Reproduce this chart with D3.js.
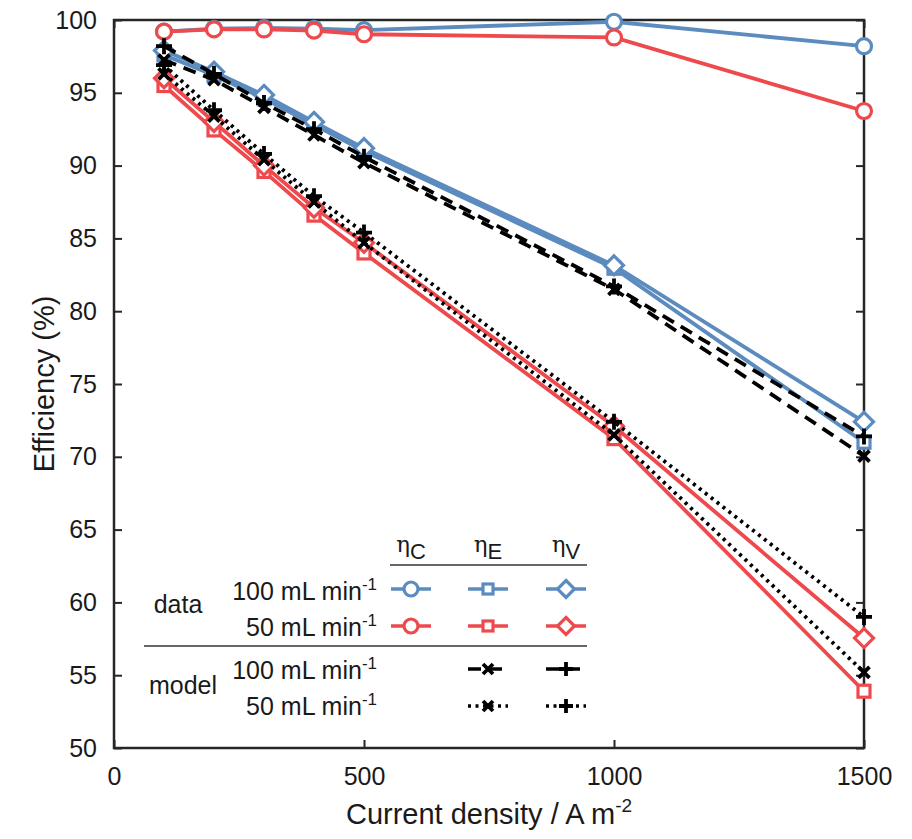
<!DOCTYPE html>
<html>
<head>
<meta charset="utf-8">
<script src="https://cdn.jsdelivr.net/npm/d3@7"></script>
<style>
  body { margin: 0; background: #fff; }
  text { font-family: "Liberation Sans", Arial, sans-serif; fill: #1a1a1a; }
</style>
</head>
<body>
<svg id="chart" width="912" height="839"></svg>
<script>
// current density (A m^-2)
const currentDensity = [100, 200, 300, 400, 500, 1000, 1500];
// measured efficiencies (%)
const etaC_100 = [99.2, 99.4, 99.45, 99.4, 99.3, 99.88, 98.2];
const etaC_50 = [99.2, 99.36, 99.35, 99.27, 99.02, 98.8, 93.75];
const etaE_100 = [97.6, 96.2, 94.6, 92.8, 91.0, 82.95, 71.0];
const etaV_100 = [97.9, 96.45, 94.85, 93.0, 91.2, 83.15, 72.4];
const etaE_50 = [95.5, 92.45, 89.6, 86.6, 84.0, 71.25, 53.9];
const etaV_50 = [96.0, 93.0, 90.0, 87.1, 84.7, 72.1, 57.55];
// model efficiencies (%)
const modelE_100 = [97.25, 95.9, 94.0, 92.1, 90.2, 81.5, 70.05];
const modelV_100 = [98.2, 96.3, 94.3, 92.5, 90.6, 81.7, 71.4];
const modelE_50 = [96.3, 93.4, 90.4, 87.5, 84.7, 71.5, 55.2];
const modelV_50 = [96.9, 93.8, 90.8, 87.9, 85.4, 72.4, 59.0];
// ticks
const xTicks = [0, 500, 1000, 1500];
const yTicks = [50, 55, 60, 65, 70, 75, 80, 85, 90, 95, 100];

const blue = "#5b8bbf", red = "#ee4a4e", black = "#000";
const margin = {left: 114, right: 48, top: 20, bottom: 91};
const W = 912, H = 839;
const pw = W - margin.left - margin.right, ph = H - margin.top - margin.bottom;

let svg = d3.select("#chart");
let g = svg.append("g").attr("transform", `translate(${margin.left},${margin.top})`);

let x = d3.scaleLinear().domain([0, 1500]).range([0, pw]);
let y = d3.scaleLinear().domain([50, 100]).range([ph, 0]);

// axes: inward ticks on all four sides
const tickLen = 8;
let axisStyle = sel => {
  sel.selectAll("path.domain").remove();
  sel.selectAll(".tick line").attr("stroke", "#262626").attr("stroke-width", 2);
  sel.selectAll(".tick text").style("font-size", "25px").attr("fill", "#1a1a1a");
};
g.append("g").attr("transform", `translate(0,${ph})`)
  .call(d3.axisBottom(x).tickValues(xTicks).tickFormat(d3.format("d"))
    .tickSize(-tickLen).tickPadding(tickLen + 11))
  .call(axisStyle);
g.append("g")
  .call(d3.axisLeft(y).tickValues(yTicks).tickSize(-tickLen).tickPadding(tickLen + 9))
  .call(axisStyle);
g.append("g")
  .call(d3.axisTop(x).tickValues(xTicks).tickSize(-tickLen).tickFormat(""))
  .call(axisStyle);
g.append("g").attr("transform", `translate(${pw},0)`)
  .call(d3.axisRight(y).tickValues(yTicks).tickSize(-tickLen).tickFormat(""))
  .call(axisStyle);
g.append("rect").attr("width", pw).attr("height", ph)
  .attr("fill", "none").attr("stroke", "#262626").attr("stroke-width", 2.5);

// axis titles
svg.append("text").attr("x", margin.left + pw / 2).attr("y", 824)
  .attr("text-anchor", "middle").style("font-size", "29px")
  .text("Current density / A m")
  .append("tspan").attr("dy", -12).style("font-size", "19px").text("-2");
svg.append("text")
  .attr("transform", `translate(54,${margin.top + ph / 2}) rotate(-90)`)
  .attr("text-anchor", "middle").style("font-size", "29px")
  .text("Efficiency (%)");

// marker shapes
function marker(sel, shape, color, size) {
  if (shape === "circle") {
    sel.append("circle").attr("r", size).attr("fill", "#fff")
      .attr("stroke", color).attr("stroke-width", 3.2);
  } else if (shape === "square") {
    sel.append("rect").attr("x", -size).attr("y", -size)
      .attr("width", size * 2).attr("height", size * 2)
      .attr("fill", "#fff").attr("stroke", color).attr("stroke-width", 3.2);
  } else if (shape === "diamond") {
    sel.append("path").attr("d", `M0,${-size}L${size},0L0,${size}L${-size},0Z`)
      .attr("fill", "#fff").attr("stroke", color).attr("stroke-width", 3.2);
  } else if (shape === "cross") {
    sel.append("path").attr("d", `M${-size},${-size}L${size},${size}M${-size},${size}L${size},${-size}`)
      .attr("stroke", color).attr("stroke-width", 3.8);
  } else if (shape === "plus") {
    sel.append("path").attr("d", `M${-size},0L${size},0M0,${-size}L0,${size}`)
      .attr("stroke", color).attr("stroke-width", 3.8);
  }
}

const series = [
  {values: etaE_100, color: blue, shape: "square", size: 6, dash: null},
  {values: etaV_100, color: blue, shape: "diamond", size: 9.5, dash: null},
  {values: etaC_100, color: blue, shape: "circle", size: 7.5, dash: null},
  {values: etaE_50, color: red, shape: "square", size: 6, dash: null},
  {values: etaV_50, color: red, shape: "diamond", size: 9.5, dash: null},
  {values: etaC_50, color: red, shape: "circle", size: 7.5, dash: null},
  {values: modelE_100, color: black, shape: "cross", size: 5.5, dash: "13,8"},
  {values: modelV_100, color: black, shape: "plus", size: 8, dash: "13,8"},
  {values: modelE_50, color: black, shape: "cross", size: 5.5, dash: "3,4.5"},
  {values: modelV_50, color: black, shape: "plus", size: 8, dash: "3,4.5"}
];

let line = d3.line().x((d, i) => x(currentDensity[i])).y(d => y(d));

series.forEach(s => {
  let sg = g.append("g");
  sg.append("path").attr("d", line(s.values)).attr("fill", "none")
    .attr("stroke", s.color).attr("stroke-width", 3.8)
    .attr("stroke-dasharray", s.dash);
  sg.selectAll("g.m").data(s.values).join("g").attr("class", "m")
    .attr("transform", (d, i) => `translate(${x(currentDensity[i])},${y(d)})`)
    .each(function () { marker(d3.select(this), s.shape, s.color, s.size); });
});

// legend table
let lg = svg.append("g");
const colX = [411, 488, 566];
const headers = ["C", "E", "V"];
headers.forEach((h, i) => {
  let t = lg.append("text").attr("x", colX[i]).attr("y", 552).attr("text-anchor", "middle");
  t.append("tspan").style("font-family", "DejaVu Serif").style("font-size", "23px").text("\u03b7");
  t.append("tspan").attr("dy", 7).style("font-size", "22px").text(h);
});
lg.append("line").attr("x1", 390).attr("x2", 587).attr("y1", 565).attr("y2", 565)
  .attr("stroke", "#333").attr("stroke-width", 1.5);
lg.append("line").attr("x1", 144).attr("x2", 587).attr("y1", 646).attr("y2", 646)
  .attr("stroke", "#333").attr("stroke-width", 1.5);

function rateLabel(yy, txt) {
  let t = lg.append("text").attr("x", 377).attr("y", yy).attr("text-anchor", "end")
    .style("font-size", "25px").text(txt);
  t.append("tspan").attr("dy", -10).style("font-size", "17px").text("-1");
}
rateLabel(600, "100 mL min");
rateLabel(636, "50 mL min");
rateLabel(679, "100 mL min");
rateLabel(715, "50 mL min");
lg.append("text").attr("x", 178).attr("y", 613).attr("text-anchor", "middle")
  .style("font-size", "25px").text("data");
lg.append("text").attr("x", 183).attr("y", 694).attr("text-anchor", "middle")
  .style("font-size", "25px").text("model");

const legendRows = [
  {y: 589, color: blue, shapes: ["circle", "square", "diamond"], dash: null},
  {y: 626, color: red, shapes: ["circle", "square", "diamond"], dash: null},
  {y: 669, color: black, shapes: [null, "cross", "plus"], dash: "13,8"},
  {y: 706, color: black, shapes: [null, "cross", "plus"], dash: "3,4.5"}
];
const sizes = {circle: 7, square: 5, diamond: 8.5, cross: 5, plus: 7};
legendRows.forEach(r => {
  r.shapes.forEach((sh, i) => {
    if (!sh) return;
    let cg = lg.append("g").attr("transform", `translate(${colX[i]},${r.y})`);
    cg.append("line").attr("x1", -20).attr("x2", 20)
      .attr("stroke", r.color).attr("stroke-width", 3.5)
      .attr("stroke-dasharray", r.dash);
    marker(cg, sh, r.color, sizes[sh]);
  });
});
</script>
</body>
</html>
